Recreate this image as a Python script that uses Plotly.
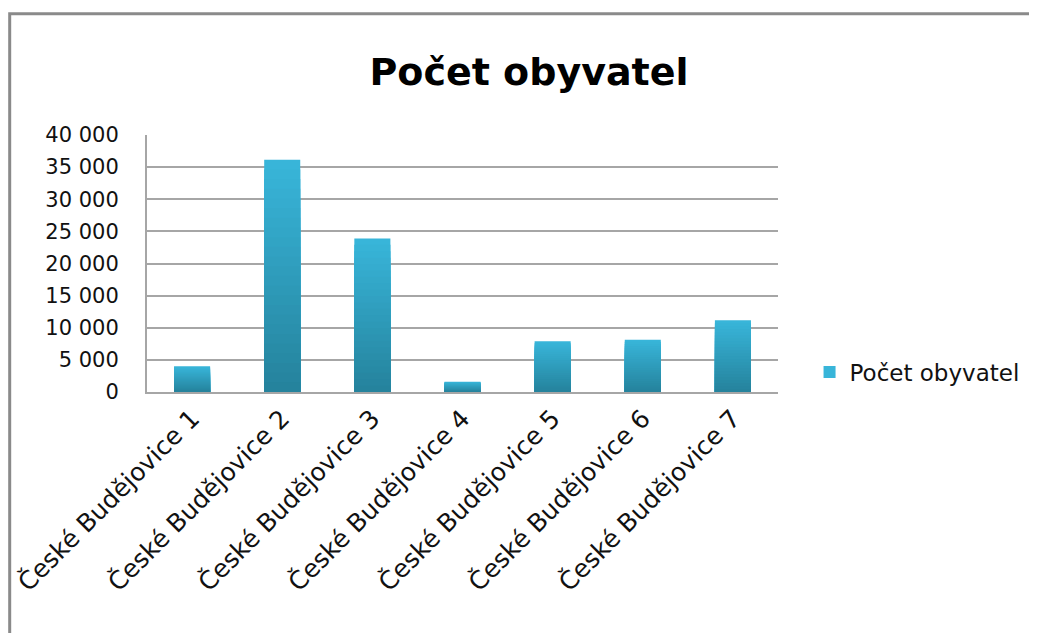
import plotly.graph_objects as go

categories = ["České Budějovice 1", "České Budějovice 2", "České Budějovice 3",
              "České Budějovice 4", "České Budějovice 5", "České Budějovice 6",
              "České Budějovice 7"]
population = [4000, 36150, 23900, 1600, 7900, 8150, 11150]
series_name = "Počet obyvatel"
y_tickvals = [0, 5000, 10000, 15000, 20000, 25000, 30000, 35000, 40000]
y_ticktext = ["0", "5 000", "10 000", "15 000", "20 000", "25 000", "30 000", "35 000", "40 000"]

FONT = "'DejaVu Sans', sans-serif"
top_rgb = (56, 181, 217)
bot_rgb = (37, 131, 157)
N = 24

fig = go.Figure()
for k in range(N):
    f = 1 - k / N
    t = k / (N - 1)
    c = tuple(round(top_rgb[i] + (bot_rgb[i] - top_rgb[i]) * t) for i in range(3))
    fig.add_trace(go.Bar(
        x=categories, y=[v * f for v in population],
        name=series_name, showlegend=(k == 0), legendgroup="g",
        marker=dict(color="rgb(%d,%d,%d)" % c, line=dict(width=0)),
        width=0.4, hoverinfo="skip" if k else None,
    ))

fig.update_layout(
    width=1029, height=625,
    margin=dict(l=139, r=259, t=127, b=241, autoexpand=False),
    barmode="overlay",
    paper_bgcolor="white", plot_bgcolor="white",
    font=dict(family=FONT, size=21, color="#111"),
    title=dict(text="<b>Počet obyvatel</b>", x=0.5063, xanchor="center",
               y=0.8976, yanchor="middle", font=dict(family=FONT, size=38, color="#000")),
    legend=dict(x=1.05, y=0.078, xanchor="left", yanchor="middle",
                font=dict(size=23), itemwidth=30),
    xaxis=dict(tickangle=-45, showline=True, linecolor="#a6a6a6", linewidth=2,
               showgrid=False, ticks="", tickfont=dict(size=25), automargin=False),
    yaxis=dict(range=[0, 40000], tickvals=y_tickvals, ticktext=y_ticktext,
               showgrid=True, gridcolor="#a6a6a6", gridwidth=1.5,
               showline=True, linecolor="#a6a6a6", linewidth=2, ticks="",
               ticklabelstandoff=22, automargin=False,
               tickfont=dict(size=21), zeroline=False),
    shapes=[dict(type="rect", xref="paper", yref="paper",
                 x0=-0.2176, x1=2.0, y0=-2.0, y1=1.472,
                 line=dict(color="#8a8a8a", width=3), fillcolor="rgba(0,0,0,0)", layer="below")],
)

fig.write_html("out.html")
